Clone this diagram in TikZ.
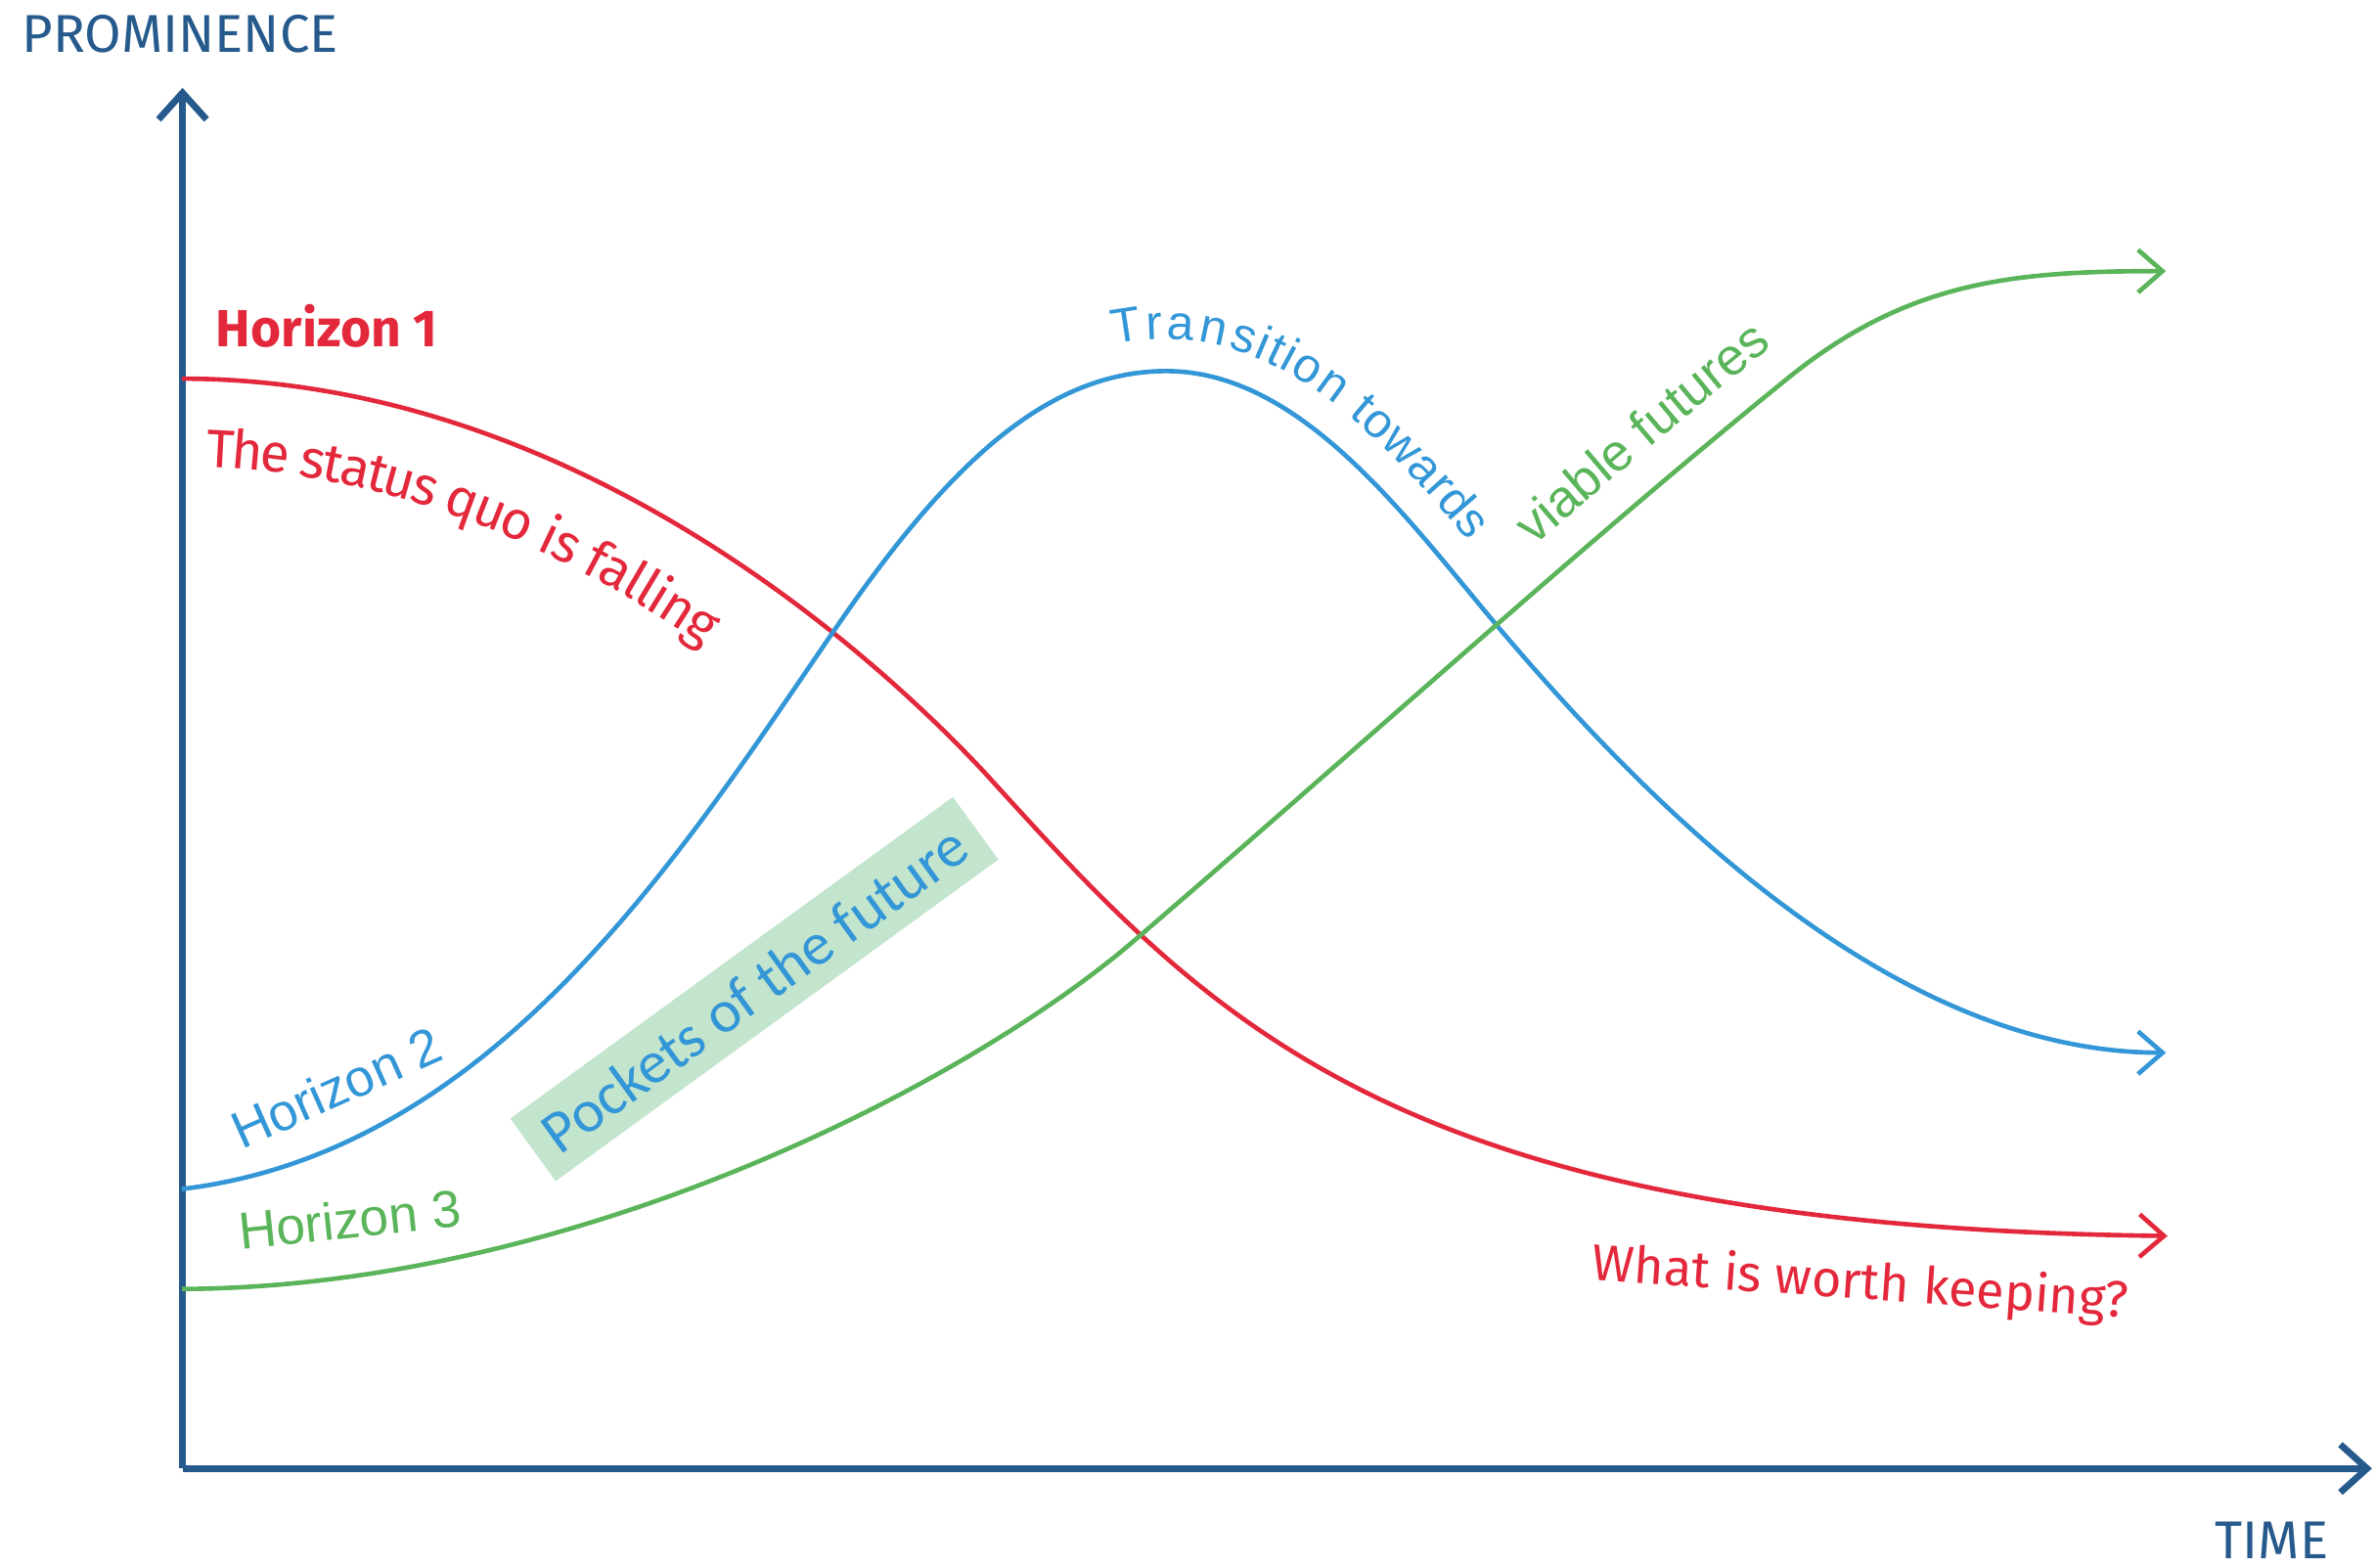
\documentclass[tikz,border=0pt]{standalone}
\usepackage{fontspec}
\setmainfont{Fira Sans}
\newfontfamily\arialfont{Liberation Sans}
\newfontfamily\calibrifont{Carlito}
\usetikzlibrary{arrows.meta,decorations.text}
\definecolor{axisblue}{RGB}{38,90,140}
\definecolor{hzred}{RGB}{228,40,60}
\definecolor{hzblue}{RGB}{50,150,215}
\definecolor{hzgreen}{RGB}{90,180,90}
\definecolor{pocketgreen}{RGB}{195,228,205}
\tikzset{axis/.style={draw=axisblue, line width=1.25pt, -{Straight Barb[length=5pt,width=9pt]}},
         curve/.style={line width=0.85pt, -{Straight Barb[length=4.6pt,width=8pt]}},
         axislabel/.style={text=axisblue, inner sep=0pt, font=\fontsize{10}{12}\selectfont},
         hzlabel/.style={inner sep=0pt, font=\fontsize{9.8}{12}\selectfont\arialfont},
         pocket/.style={fill=pocketgreen, text=hzblue, inner sep=0pt,
                        minimum width=3.61cm, minimum height=0.51cm,
                        font=\fontsize{11.3}{13}\selectfont\calibrifont}}

\begin{document}
\begin{tikzpicture}[x=0.01cm, y=0.01cm]

	\useasboundingbox (0,0) rectangle (1568,1035);

	% axes
	\coordinate (o) at (120.5,65.5);
	\coordinate (ytip) at (120.5,977);
	\coordinate (xtip) at (1566,65.5);
	\draw[axis] (o) -- (ytip);
	\draw[axis] (o) -- (xtip);
	\node[axislabel, anchor=base west] (prom) at (14,1000.6) {PROMINENCE};
	\node[axislabel, anchor=base east] (time) at (1538,6) {TIME};

	% the three horizons
	\coordinate (r0) at (120,785);  \coordinate (r1) at (650,525);  \coordinate (r2) at (1431,219);
	\coordinate (b0) at (120,250);  \coordinate (b1) at (555,625);  \coordinate (b2) at (770,790);
	\coordinate (b3) at (990,620);  \coordinate (b4) at (1430,340);
	\coordinate (g0) at (120,184);  \coordinate (g1) at (750,415);  \coordinate (g2) at (1180,785);
	\coordinate (g3) at (1430,856);

	\draw[curve, hzred] (r0) .. controls (380,785) and (580,600) .. (r1)
		.. controls (800,360) and (920,225) .. (r2);
	\draw[curve, hzblue] (b0) .. controls (330,275) and (455,480) .. (b1)
		.. controls (625,726) and (690,790) .. (b2)
		.. controls (860,790) and (930,691) .. (b3)
		.. controls (1090,502) and (1250,340) .. (b4);
	\draw[curve, hzgreen] (g0) .. controls (380,185) and (640,320) .. (g1)
		.. controls (900,544) and (1050,680) .. (g2)
		.. controls (1260,850) and (1330,856) .. (g3);

	% texts along the curves
	\path[decorate, decoration={text along path, raise=-16.5pt,
		text align={left indent=0.19cm},
		text={|\fontsize{10.1}{12}\selectfont\color{hzred}|The status quo is falling}}]
		(r0) .. controls (380,785) and (580,600) .. (r1);
	\path[decorate, decoration={text along path, raise=6pt,
		text align={left indent=2.5cm},
		text={|\fontsize{9.1}{11}\selectfont\arialfont\color{hzblue}|Transition towards}}]
		(b1) .. controls (625,726) and (690,790) .. (b2)
		.. controls (860,790) and (930,691) .. (b3);
	\path[decorate, decoration={text along path, raise=6.5pt,
		text align={left indent=3.68cm},
		text={|\fontsize{9.8}{12}\selectfont\arialfont\color{hzgreen}|viable futures}}]
		(g1) .. controls (900,544) and (1050,680) .. (g2)
		.. controls (1260,850) and (1330,856) .. (g3);

	\node[anchor=base west, inner sep=0pt, text=hzred,
		font=\fontsize{9.8}{12}\selectfont\bfseries] (h1) at (142,806) {Horizon 1};
	\node[hzlabel, text=hzblue, rotate=24] (h2) at (222,317) {Horizon 2};
	\node[hzlabel, text=hzgreen, rotate=6] (h3) at (231,230) {Horizon 3};
	\node[pocket, rotate=36] (pockets) at (498,382) {Pockets of the future};
	\node[inner sep=0pt, text=hzred, rotate=-4,
		font=\fontsize{9.6}{12}\selectfont] (keep) at (1228,187) {What is worth keeping?};

\end{tikzpicture}
\end{document}
